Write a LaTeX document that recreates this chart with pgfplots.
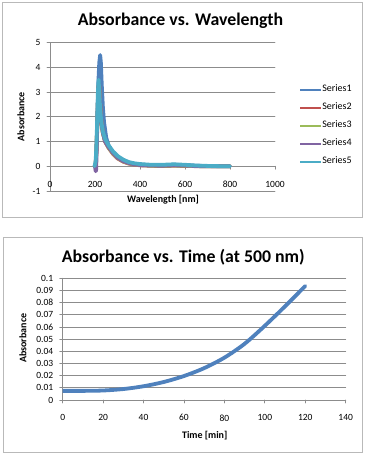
\documentclass[border=0pt]{standalone}
\usepackage{pgfplots}
\pgfplotsset{compat=1.18}
\usepackage{fontspec}
\setmainfont{Carlito}
\definecolor{s1}{RGB}{79,129,189}
\definecolor{s2}{RGB}{192,80,77}
\definecolor{s3}{RGB}{155,187,89}
\definecolor{s4}{RGB}{128,100,162}
\definecolor{s5}{RGB}{75,172,198}
\definecolor{gridc}{RGB}{140,140,140}
\definecolor{framec}{RGB}{185,185,185}
\pgfplotsset{
  excel/.style={
    scale only axis,
    /pgf/number format/assume math mode=true,
    /pgf/number format/set thousands separator={},
    tick label style={font=\fontsize{9.5}{10}\selectfont, text=black},
    ymajorgrids,
    grid style={gridc, line width=0.8pt},
    axis line style={gridc, line width=0.8pt, -},
    tick style={gridc, line width=0.8pt},
    tick align=outside,
    major tick length=3pt,
    minor tick num=0,
    hide obscured x ticks=false,
    hide obscured y ticks=false,
    line cap=round, line join=round,
  }
}
\begin{document}
\begin{tikzpicture}
\path[use as bounding box] (0pt,0pt) rectangle (365pt,454pt);
\draw[framec, line width=0.8pt] (2.5pt,237pt) rectangle (362.5pt,452pt);
\draw[framec, line width=0.8pt] (3pt,1.5pt) rectangle (362.5pt,217pt);
% ---------- top chart ----------
\begin{axis}[excel,
  at={(50pt,263pt)}, anchor=south west,
  width=225pt, height=148.3pt,
  xmin=0, xmax=1000, ymin=-1, ymax=5,
  xtick={0,200,400,600,800,1000},
  ytick={-1,0,1,2,3,4,5},
  axis x line*=middle, axis y line*=left,
  xticklabel style={yshift=-8.5pt},
  yticklabel style={xshift=-3pt},
  legend style={at={(1.107,0.715)}, anchor=north west, draw=none, fill=none,
    font=\fontsize{10}{11}\selectfont, inner sep=0pt,
    nodes={inner sep=0pt, text height=6.5pt, text depth=2.5pt},
    row sep=9pt, legend cell align=left},
  legend image code/.code={\draw[#1, line width=2pt, line cap=butt] (0pt,0pt) -- (21pt,0pt);},
  every axis plot/.append style={line width=3.8pt},
]
\addplot[s1] coordinates {(198,0)(203,0.1)(207,0.8)(211,2.1)(215,3.4)(219,4.2)(223,4.5)(226,4.2)(230,3.3)(235,2.4)(240,1.8)(250,1.15)(260,0.85)(270,0.7)(280,0.58)(300,0.38)(325,0.24)(350,0.15)(375,0.1)(400,0.07)(450,0.04)(500,0.04)(550,0.06)(600,0.05)(650,0.02)(700,0.01)(750,0)(800,0)};
\addlegendentry{Series1}
\addplot[s2] coordinates {(198,0)(203,0.05)(207,0.8)(211,2.0)(215,3.2)(218,3.3)(222,2.6)(228,1.8)(235,1.35)(245,1.0)(260,0.75)(280,0.5)(300,0.32)(325,0.19)(350,0.11)(375,0.07)(400,0.04)(450,0.02)(500,0.01)(550,0.02)(600,0.015)(650,0.005)(700,0)(800,0)};
\addlegendentry{Series2}
\addplot[s3] coordinates {(198,0)(203,0.05)(207,0.8)(211,2.0)(215,3.2)(218,3.3)(222,2.6)(228,1.8)(235,1.35)(245,1.0)(260,0.76)(280,0.52)(300,0.34)(325,0.2)(350,0.12)(375,0.08)(400,0.05)(450,0.025)(500,0.02)(550,0.03)(600,0.02)(650,0.01)(700,0)(800,0)};
\addlegendentry{Series3}
\addplot[s4] coordinates {(200,0)(203,-0.2)(205,-0.15)(208,0.8)(211,2.0)(215,3.2)(218,3.3)(222,2.6)(228,1.8)(235,1.35)(245,1.0)(260,0.78)(280,0.54)(300,0.35)(325,0.21)(350,0.13)(375,0.08)(400,0.05)(450,0.03)(500,0.025)(550,0.04)(600,0.03)(650,0.01)(700,0)(800,0)};
\addlegendentry{Series4}
\addplot[s5] coordinates {(198,0)(203,0.2)(207,1.0)(210,2.0)(213,3.0)(216,3.5)(219,3.0)(223,2.3)(228,1.8)(235,1.4)(245,1.1)(260,0.85)(280,0.6)(300,0.42)(325,0.27)(350,0.17)(375,0.12)(400,0.09)(450,0.06)(500,0.06)(550,0.08)(600,0.06)(650,0.03)(700,0.015)(750,0.005)(800,0)};
\addlegendentry{Series5}
\end{axis}
\node[font=\fontsize{17.8}{19}\selectfont\bfseries] at (180.5pt,433pt) {Absorbance vs. Wavelength};
\node[font=\fontsize{10}{11}\selectfont\bfseries, rotate=90] at (21pt,337.3pt) {Absorbance};
\node[font=\fontsize{10}{11}\selectfont\bfseries] at (163pt,254pt) {Wavelength [nm]};
% ---------- bottom chart ----------
\begin{axis}[excel,
  at={(62.7pt,54pt)}, anchor=south west,
  width=283pt, height=121.7pt,
  xmin=0, xmax=140, ymin=0, ymax=0.1,
  xtick={0,20,40,60,80,100,120,140},
  ytick={0,0.01,0.02,0.03,0.04,0.05,0.06,0.07,0.08,0.09,0.1},
  yticklabels={0,0.01,0.02,0.03,0.04,0.05,0.06,0.07,0.08,0.09,0.1},
  axis x line*=bottom, axis y line*=left,
  xticklabel style={yshift=-8pt},
  yticklabel style={xshift=-3pt},
]
\addplot[s1, line width=3.8pt, smooth] coordinates {(0,0.0075)(10,0.0075)(20,0.0078)(30,0.009)(40,0.0113)(50,0.0148)(60,0.0197)(70,0.0262)(80,0.0348)(90,0.0462)(100,0.061)(110,0.077)(120,0.0937)};
\end{axis}
\node[font=\fontsize{17.8}{19}\selectfont\bfseries] at (183.3pt,197pt) {Absorbance vs. Time (at 500 nm)};
\node[font=\fontsize{10}{11}\selectfont\bfseries, rotate=90] at (23pt,115.7pt) {Absorbance};
\node[font=\fontsize{10}{11}\selectfont\bfseries] at (204.7pt,18.3pt) {Time [min]};
\end{tikzpicture}
\end{document}
